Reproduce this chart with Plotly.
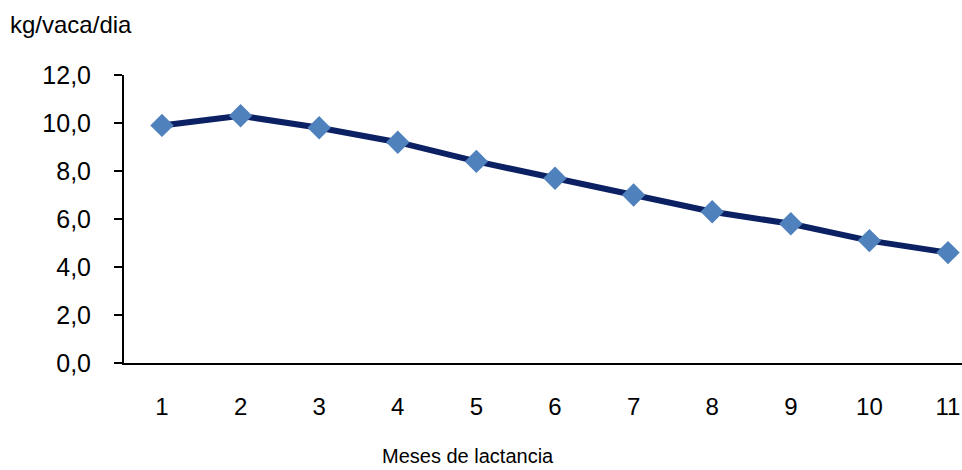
import plotly.graph_objects as go

months = [1, 2, 3, 4, 5, 6, 7, 8, 9, 10, 11]
milk = [9.9, 10.3, 9.8, 9.2, 8.4, 7.7, 7.0, 6.3, 5.8, 5.1, 4.6]
y_ticks = [0, 2, 4, 6, 8, 10, 12]

FONT = "Liberation Sans, Arial, sans-serif"

fig = go.Figure()
fig.add_trace(go.Scatter(
    x=months, y=milk, mode="lines+markers",
    line=dict(color="#0b2163", width=6),
    marker=dict(symbol="diamond", size=18, color="#4f81bd", line=dict(width=0)),
    showlegend=False,
))

fig.update_layout(
    width=962, height=470,
    margin=dict(l=124, r=0, t=75, b=107),
    paper_bgcolor="white", plot_bgcolor="white",
    separators=",.",
    font=dict(family=FONT, color="black", size=24),
    title=dict(text="kg/vaca/dia", xref="container", yref="container",
               x=10/962, xanchor="left", y=1-25/470, yanchor="middle",
               font=dict(family=FONT, size=24, color="black")),
    xaxis=dict(range=[0.517, 11.178], tickvals=months, ticktext=[str(m) for m in months],
               showgrid=False, zeroline=False, showline=True, linecolor="black", linewidth=2,
               ticks="", ticklabelstandoff=21, tickfont=dict(size=24)),
    yaxis=dict(range=[0, 12], tickvals=y_ticks, tickformat=".1f",
               showgrid=False, zeroline=False, showline=True, linecolor="black", linewidth=2,
               ticks="outside", ticklen=8, tickwidth=2, tickcolor="black",
               ticklabelstandoff=18, tickfont=dict(size=25)),
    annotations=[dict(text="Meses de lactancia", xref="paper", yref="paper",
                      x=(468-124)/838, y=(363-456)/288, xanchor="center", yanchor="middle",
                      showarrow=False, font=dict(family=FONT, size=20, color="black"))],
)

fig.write_html("out.html")
